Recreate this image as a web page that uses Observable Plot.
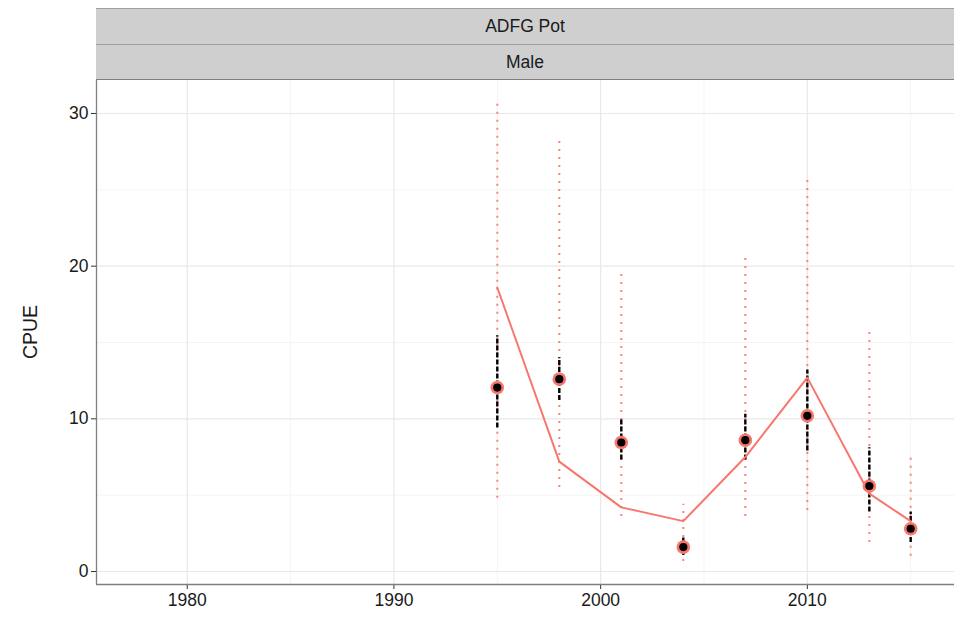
<!DOCTYPE html>
<html>
<head>
<meta charset="utf-8">
<script src="https://cdn.jsdelivr.net/npm/d3@7"></script>
<script src="https://cdn.jsdelivr.net/npm/@observablehq/plot@0.6"></script>
<style>
  html, body { margin: 0; padding: 0; background: #fff; }
  #wrap { position: relative; width: 954px; height: 617px; font-family: "Liberation Sans", Arial, Helvetica, sans-serif; }
  #wrap svg g[aria-label$="tick label"] text { font-size: 17.5px; }
  .strip { position: absolute; left: 96px; width: 858px; height: 36px; background: #cfcfcf; box-sizing: border-box;
           border-top: 1px solid #a0a0a0; text-align: center; line-height: 35px; font-size: 17.5px; color: #1a1a1a; }
</style>
</head>
<body>
<div id="wrap">
  <div class="strip" style="top:8px;">ADFG Pot</div>
  <div class="strip" style="top:44px;">Male</div>
</div>
<script>
const years   = [1995, 1998, 2001, 2004, 2007, 2010, 2013, 2015];
const obs     = [12.05, 12.6, 8.45, 1.6, 8.6, 10.2, 5.6, 2.8];
const pred    = [18.6, 7.2, 4.2, 3.3, 7.5, 12.7, 5.1, 3.3];
const innerLo = [9.4, 11.2, 7.3, 1.05, 7.3, 7.9, 3.9, 1.9];
const innerHi = [15.45, 14.0, 10.0, 2.2, 10.3, 13.2, 8.1, 3.9];
const outerLo = [4.8, 5.5, 3.6, 0.65, 3.6, 4.0, 1.9, 1.0];
const outerHi = [30.6, 28.3, 19.5, 4.4, 20.6, 25.7, 15.8, 7.45];
const xTicks = [1980, 1990, 2000, 2010];
const xMinor = [1985, 1995, 2005, 2015];
const yTicks = [0, 10, 20, 30];
const yMinor = [5, 15, 25];

const data = years.map((y, i) => ({
  year: y, obs: obs[i], pred: pred[i],
  ilo: innerLo[i], ihi: innerHi[i], olo: outerLo[i], ohi: outerHi[i]
}));

const red = "#F8766D";
const xDomain = [1975.61, 2017.12];
const yDomain = [-0.85, 32.16];

const chart = Plot.plot({
  width: 954,
  height: 617,
  marginTop: 80,
  marginBottom: 33,
  marginLeft: 96,
  marginRight: 0,
  style: { fontFamily: "Liberation Sans, Arial, Helvetica, sans-serif", fontSize: "17.5px", color: "#1a1a1a", background: "transparent" },
  x: { domain: xDomain, label: null },
  y: { domain: yDomain, label: null },
  marks: [
    Plot.ruleX(xMinor, { stroke: "#f4f4f4", strokeWidth: 1 }),
    Plot.ruleY(yMinor, { stroke: "#f4f4f4", strokeWidth: 1 }),
    Plot.ruleX(xTicks, { stroke: "#e8e8e8", strokeWidth: 1.2 }),
    Plot.ruleY(yTicks, { stroke: "#e8e8e8", strokeWidth: 1.2 }),
    Plot.ruleX(data, { x: "year", y1: "olo", y2: "ohi", stroke: red, strokeWidth: 2, strokeDasharray: "2,6", strokeOpacity: 0.9 }),
    Plot.ruleX(data, { x: "year", y1: "ilo", y2: "ihi", stroke: "#000", strokeWidth: 2.4, strokeDasharray: "5,2" }),
    Plot.line(data, { x: "year", y: "pred", stroke: red, strokeWidth: 2 }),
    Plot.dot(data, { x: "year", y: "obs", r: 6.8, fill: red, stroke: "none" }),
    Plot.dot(data, { x: "year", y: "obs", r: 4.1, fill: "#000", stroke: "none" }),
    Plot.axisX({ ticks: xTicks, tickFormat: d => String(d), tickSize: 5, tickPadding: 4, stroke: "#333", fontSize: 17.5, label: null }),
    Plot.axisY({ ticks: yTicks, tickSize: 5, tickPadding: 3, stroke: "#333", fontSize: 17.5, label: null }),
    Plot.ruleX([xDomain[0]], { stroke: "#7f7f7f", strokeWidth: 1.3 }),
    Plot.ruleY([yDomain[0]], { stroke: "#7f7f7f", strokeWidth: 1.3 })
  ]
});
chart.style.position = "absolute";
chart.style.left = "0px";
chart.style.top = "0px";
const wrap = document.getElementById("wrap");
wrap.insertBefore(chart, wrap.firstChild);

const panelTop = document.createElement("div");
panelTop.style.cssText = "position:absolute;left:96px;top:79px;width:858px;height:0;border-top:1.3px solid #7f7f7f;";
wrap.appendChild(panelTop);

const lab = document.createElement("div");
lab.textContent = "CPUE";
lab.style.cssText = "position:absolute;left:30px;top:332px;transform:translate(-50%,-50%) rotate(-90deg);font-size:19.5px;color:#1a1a1a;white-space:nowrap;";
wrap.appendChild(lab);
</script>
</body>
</html>
